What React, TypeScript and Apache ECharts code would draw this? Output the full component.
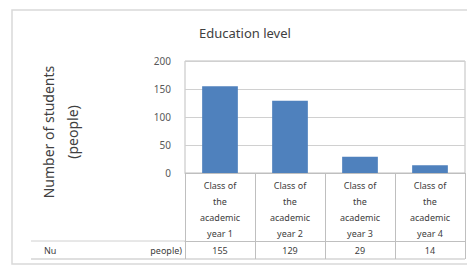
import React, { useEffect, useRef } from "react";
import * as echarts from "echarts";

const categories = [
  "Class of\nthe\nacademic\nyear 1",
  "Class of\nthe\nacademic\nyear 2",
  "Class of\nthe\nacademic\nyear 3",
  "Class of\nthe\nacademic\nyear 4",
];
const students = [155, 129, 29, 14];
const yTicks = { min: 0, max: 200, interval: 50 };
const titleText = "Education level";
const yAxisTitle = "Number of students\n(people)";
const rowHeaderStart = "Nu";
const rowHeaderEnd = "people)";

const FONT = "'Noto Sans', 'Open Sans', sans-serif";
const GRID = "#bfbfbf";

export default function App() {
  const ref = useRef<HTMLDivElement>(null);
  useEffect(() => {
    if (!ref.current) return;
    const chart = echarts.init(ref.current, undefined, { renderer: "svg" });
    chart.setOption({
      animation: false,
      backgroundColor: "#ffffff",
      textStyle: { fontFamily: FONT },
      grid: {
        left: 185,
        top: 61,
        right: 2,
        bottom: 94,
        show: true,
        borderColor: GRID,
        borderWidth: 1,
      },
      xAxis: [
        {
          type: "category",
          data: categories,
          position: "bottom",
          axisLine: { show: true, lineStyle: { color: GRID } },
          axisTick: { show: true, length: 86, lineStyle: { color: GRID } },
          axisLabel: {
            interval: 0,
            margin: 4,
            fontSize: 9,
            lineHeight: 16,
            color: "#404040",
            fontFamily: FONT,
          },
        },
        {
          type: "category",
          data: categories,
          position: "bottom",
          offset: 68,
          axisLine: { show: true, lineStyle: { color: GRID } },
          axisTick: { show: false },
          axisLabel: {
            interval: 0,
            margin: 3,
            fontSize: 9,
            lineHeight: 12,
            color: "#404040",
            fontFamily: FONT,
            formatter: (_v: string, i: number) => String(students[i]),
          },
        },
      ],
      yAxis: {
        type: "value",
        min: yTicks.min,
        max: yTicks.max,
        interval: yTicks.interval,
        axisLine: { show: false },
        axisTick: { show: false },
        splitLine: { lineStyle: { color: "#d0d0d0" } },
        axisLabel: { fontSize: 10, color: "#595959", margin: 14, fontFamily: FONT },
      },
      series: [
        {
          type: "bar",
          data: students,
          xAxisIndex: 0,
          barWidth: "51%",
          itemStyle: { color: "#4f81bd" },
        },
      ],
      graphic: [
        {
          type: "rect",
          shape: { x: 12, y: 10, width: 470, height: 254 },
          style: { fill: "none", stroke: "#d9d9d9", lineWidth: 1.5 },
          z: -1,
        },
        {
          type: "line",
          shape: { x1: 31, y1: 241, x2: 185, y2: 241 },
          style: { stroke: "#d0d0d0", lineWidth: 1 },
        },
        {
          type: "line",
          shape: { x1: 31, y1: 259, x2: 465, y2: 259 },
          style: { stroke: GRID, lineWidth: 1 },
        },
        {
          type: "text",
          x: 44,
          y: 250,
          style: {
            text: rowHeaderStart,
            fontSize: 9,
            fill: "#404040",
            fontFamily: FONT,
            verticalAlign: "middle",
          },
        },
        {
          type: "text",
          x: 182,
          y: 250,
          style: {
            text: rowHeaderEnd,
            fontSize: 9,
            fill: "#404040",
            fontFamily: FONT,
            align: "right",
            verticalAlign: "middle",
          },
        },
        {
          type: "text",
          x: 245,
          y: 33,
          style: {
            text: titleText,
            fontSize: 13,
            fill: "#404040",
            fontFamily: FONT,
            align: "center",
            verticalAlign: "middle",
          },
        },
        {
          type: "text",
          x: 60,
          y: 132,
          rotation: Math.PI / 2,
          style: {
            text: yAxisTitle,
            fontSize: 14,
            lineHeight: 24,
            fill: "#404040",
            fontFamily: FONT,
            align: "center",
            verticalAlign: "middle",
          },
        },
      ],
    });
    return () => chart.dispose();
  }, []);
  return (
    <div
      ref={ref}
      style={{ position: "fixed", left: 0, top: 0, width: 467, height: 267 }}
    />
  );
}
